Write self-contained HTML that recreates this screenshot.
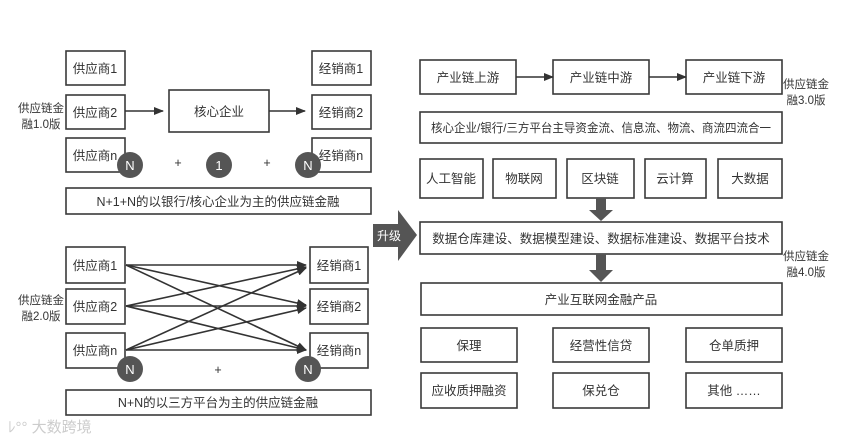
<!DOCTYPE html>
<html><head><meta charset="utf-8"><style>
body{margin:0;background:#fff;}
svg text{font-family:"Liberation Sans","Noto Sans CJK SC",sans-serif;fill:#333;}
</style></head><body>
<svg width="848" height="442" viewBox="0 0 848 442" xmlns="http://www.w3.org/2000/svg">
<defs>
<marker id="a" markerWidth="10" markerHeight="8" refX="9" refY="4" orient="auto" markerUnits="userSpaceOnUse"><path d="M0,0L10,4L0,8z" fill="#333"/></marker>
</defs>
<g fill="none" stroke="#3a3a3a" stroke-width="1.6">
<rect x="66" y="51" width="59" height="34"/><rect x="66" y="95" width="59" height="34"/><rect x="66" y="138" width="59" height="34"/>
<rect x="169" y="90" width="100" height="42"/>
<rect x="312" y="51" width="59" height="34"/><rect x="312" y="95" width="59" height="34"/><rect x="312" y="138" width="59" height="34"/>
<rect x="66" y="188" width="305" height="26"/>
<rect x="66" y="247" width="59" height="36"/><rect x="66" y="289" width="59" height="35"/><rect x="66" y="333" width="59" height="35"/>
<rect x="310" y="247" width="58" height="36"/><rect x="310" y="289" width="58" height="35"/><rect x="310" y="333" width="58" height="35"/>
<rect x="66" y="390" width="305" height="25"/>
<rect x="420" y="60" width="96" height="34"/><rect x="553" y="60" width="96" height="34"/><rect x="686" y="60" width="96" height="34"/>
<rect x="420" y="112" width="362" height="31"/>
<rect x="420" y="159" width="63" height="39"/><rect x="493" y="159" width="63" height="39"/><rect x="567" y="159" width="67" height="39"/><rect x="645" y="159" width="61" height="39"/><rect x="718" y="159" width="64" height="39"/>
<rect x="420" y="222" width="362" height="32"/>
<rect x="421" y="283" width="361" height="32"/>
<rect x="421" y="328" width="96" height="34"/><rect x="553" y="328" width="96" height="34"/><rect x="686" y="328" width="96" height="34"/>
<rect x="421" y="373" width="96" height="35"/><rect x="553" y="373" width="96" height="35"/><rect x="686" y="373" width="96" height="35"/>
</g>
<g stroke="#333" stroke-width="1.6" marker-end="url(#a)">
<line x1="125" y1="111" x2="163" y2="111"/><line x1="269" y1="111" x2="305" y2="111"/>
<line x1="516" y1="77" x2="553" y2="77"/><line x1="649" y1="77" x2="686" y2="77"/>
<line x1="126" y1="265" x2="306" y2="265"/><line x1="126" y1="265" x2="306" y2="305"/><line x1="126" y1="265" x2="306" y2="350"/>
<line x1="126" y1="306" x2="306" y2="267"/><line x1="126" y1="306" x2="306" y2="306"/><line x1="126" y1="306" x2="306" y2="350"/>
<line x1="126" y1="350" x2="306" y2="268"/><line x1="126" y1="350" x2="306" y2="308"/><line x1="126" y1="350" x2="306" y2="350"/>
</g>
<g fill="#555">
<path d="M596,198h10v12h7l-12,11l-12,-11h7z"/>
<path d="M596,254h10v16h7l-12,12l-12,-12h7z"/>
<path d="M373,224h25v-14l19,25l-19,26v-14h-25z"/>
<circle cx="130" cy="165" r="13"/><circle cx="219" cy="165" r="13"/><circle cx="308" cy="165" r="13"/>
<circle cx="130" cy="369" r="13"/><circle cx="308" cy="369" r="13"/>
</g>
<g font-size="13" text-anchor="middle">
<text x="130" y="170" style="fill:#fff">N</text><text x="219" y="170" style="fill:#fff">1</text><text x="308" y="170" style="fill:#fff">N</text>
<text x="130" y="374" style="fill:#fff">N</text><text x="308" y="374" style="fill:#fff">N</text>
<text x="389" y="240" style="fill:#fff" font-size="12">升级</text>
</g>
<g font-size="12.5" text-anchor="middle">
<text x="95" y="73">供应商1</text><text x="95" y="117">供应商2</text><text x="95" y="160">供应商n</text>
<text x="219" y="116">核心企业</text>
<text x="341" y="73">经销商1</text><text x="341" y="117">经销商2</text><text x="341" y="160">经销商n</text>
<text x="178" y="167">+</text><text x="267" y="167">+</text>
<text x="218" y="206">N+1+N的以银行/核心企业为主的供应链金融</text>
<text x="95" y="270">供应商1</text><text x="95" y="311">供应商2</text><text x="95" y="355">供应商n</text>
<text x="339" y="270">经销商1</text><text x="339" y="311">经销商2</text><text x="339" y="355">经销商n</text>
<text x="218" y="374">+</text>
<text x="218" y="407">N+N的以三方平台为主的供应链金融</text>
<text x="468" y="82">产业链上游</text><text x="601" y="82">产业链中游</text><text x="734" y="82">产业链下游</text>
<text x="601" y="132" font-size="12" textLength="340" lengthAdjust="spacingAndGlyphs">核心企业/银行/三方平台主导资金流、信息流、物流、商流四流合一</text>
<text x="451" y="183">人工智能</text><text x="524" y="183">物联网</text><text x="600" y="183">区块链</text><text x="675" y="183">云计算</text><text x="750" y="183">大数据</text>
<text x="601" y="243">数据仓库建设、数据模型建设、数据标准建设、数据平台技术</text>
<text x="601" y="304">产业互联网金融产品</text>
<text x="469" y="350">保理</text><text x="601" y="350">经营性信贷</text><text x="734" y="350">仓单质押</text>
<text x="469" y="395">应收质押融资</text><text x="601" y="395">保兑仓</text><text x="734" y="395">其他 ……</text>
</g>
<g font-size="11.5" text-anchor="middle">
<text x="41" y="112">供应链金</text><text x="41" y="128">融1.0版</text>
<text x="41" y="304">供应链金</text><text x="41" y="320">融2.0版</text>
<text x="806" y="88">供应链金</text><text x="806" y="104">融3.0版</text>
<text x="806" y="260">供应链金</text><text x="806" y="276">融4.0版</text>
</g>
<text x="8" y="432" font-size="15" style="fill:#ccc">ﾚ°° 大数跨境</text>
</svg>
</body></html>
